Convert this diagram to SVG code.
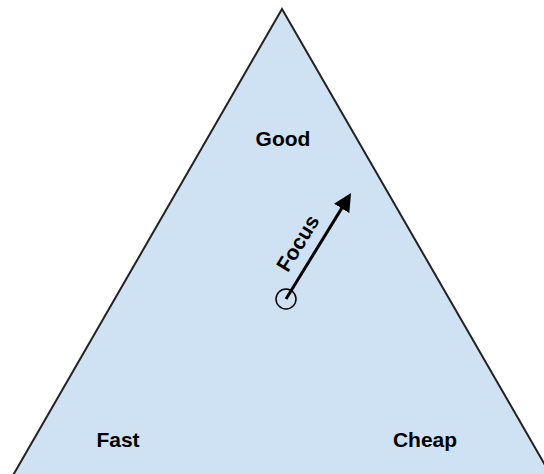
<svg xmlns="http://www.w3.org/2000/svg" width="544" height="474" viewBox="0 0 544 474">
<style>
.lbl{font-family:"Liberation Sans",Arial,sans-serif;font-weight:bold;font-size:21px;fill:#000;text-anchor:middle}
</style>
<defs>
<marker id="ah" markerWidth="6" markerHeight="6" refX="0.5" refY="3" orient="auto" markerUnits="strokeWidth">
<path d="M0,0 L6,3 L0,6 Z" fill="#000"/>
</marker>
</defs>
<g id="triangle">
<path d="M282,9 L556,484 L8,484 Z" fill="#cfe2f3" stroke="#222" stroke-width="2" stroke-linejoin="miter"/>
</g>
<g id="good"><text class="lbl" x="283" y="146">Good</text></g>
<g id="fast"><text class="lbl" x="118" y="447">Fast</text></g>
<g id="cheap"><text class="lbl" x="425" y="447">Cheap</text></g>
<g id="connectors">
<circle cx="286" cy="299" r="10" fill="none" stroke="#000" stroke-width="1.5"/>
<line x1="286" y1="299" x2="342.4" y2="207.1" stroke="#000" stroke-width="3" marker-end="url(#ah)"/>
</g>
<g id="focus"><text class="lbl" x="0" y="0" transform="translate(304,247) rotate(-58.5)">Focus</text></g>
</svg>
